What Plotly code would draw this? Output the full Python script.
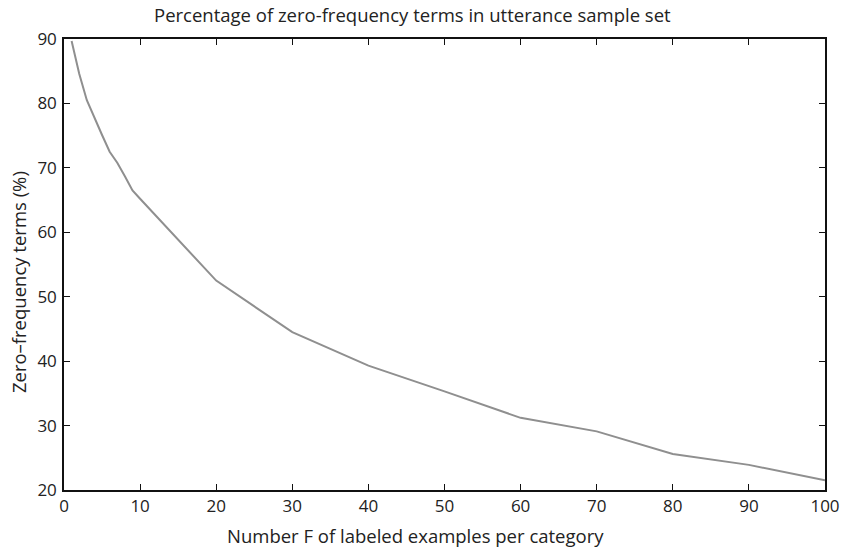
import plotly.graph_objects as go

labeled_examples = [1, 2, 3, 4, 5, 6, 7, 8, 9, 10, 20, 30, 40, 50, 60, 70, 80, 90, 100]
zero_freq_pct = [89.7, 84.6, 80.5, 77.7, 75.1, 72.5, 70.8, 68.7, 66.5, 65.2,
                 52.5, 44.5, 39.3, 35.3, 31.2, 29.1, 25.6, 23.9, 21.5]

x_ticks = [0, 10, 20, 30, 40, 50, 60, 70, 80, 90, 100]
y_ticks = [20, 30, 40, 50, 60, 70, 80, 90]

title_text = "Percentage of zero-frequency terms in utterance sample set"
x_title = "Number F of labeled examples per category"
y_title = "Zero\u2013frequency terms (%)"

FONT = "Open Sans"
W, H = 852, 547
ML, MR, MT, MB = 63.5, 14.3, 38.7, 57.3

fig = go.Figure()
fig.add_trace(go.Scatter(
    x=labeled_examples, y=zero_freq_pct, mode="lines",
    line=dict(color="#8f8f8f", width=2), showlegend=False,
))

axis_common = dict(
    showline=True, linecolor="#111111", linewidth=1.5, mirror="ticks",
    ticks="inside", ticklen=6, tickwidth=1, tickcolor="#111111",
    showgrid=False, zeroline=False, ticklabeloverflow="allow",
    tickfont=dict(family=FONT, size=17, color="#222222"),
)

fig.update_xaxes(range=[0, 100], tickvals=x_ticks, **axis_common)
fig.update_yaxes(range=[20, 90], tickvals=y_ticks, ticklabelstandoff=2, **axis_common)

fig.update_layout(
    width=W, height=H,
    margin=dict(l=ML, r=MR, t=MT, b=MB, pad=0),
    paper_bgcolor="white", plot_bgcolor="white",
    annotations=[
        dict(text=title_text, xref="paper", yref="paper",
             x=(418 - ML) / (W - ML - MR), y=1 + (38.7 - 14) / (H - MT - MB),
             xanchor="center", yanchor="middle", showarrow=False,
             font=dict(family=FONT, size=18.5, color="#222222")),
        dict(text=x_title, xref="paper", yref="paper",
             x=(421 - ML) / (W - ML - MR), y=-(535 - (H - MB)) / (H - MT - MB),
             xanchor="center", yanchor="middle", showarrow=False,
             font=dict(family=FONT, size=18.5, color="#222222")),
        dict(text=y_title, xref="paper", yref="paper", textangle=-90,
             x=-(ML - 18) / (W - ML - MR), y=1 - (281.5 - MT) / (H - MT - MB),
             xanchor="center", yanchor="middle", showarrow=False,
             font=dict(family=FONT, size=18.5, color="#222222")),
    ],
)

fig.write_html("out.html")
